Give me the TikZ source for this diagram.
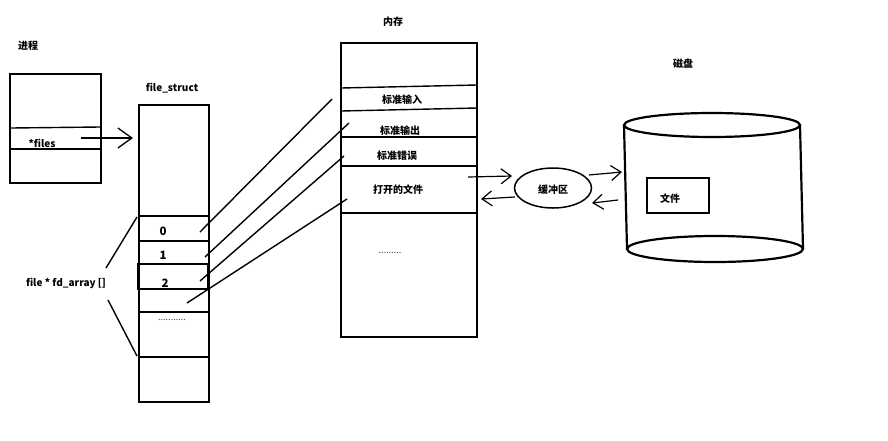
\documentclass[tikz,border=0pt]{standalone}
\usepackage{fontspec}
\setmainfont{Noto Sans CJK SC}
\usetikzlibrary{arrows.meta,shapes.geometric}
\begin{document}
\begin{tikzpicture}[x=1pt,y=-1pt,
  lbl/.style={font=\fontsize{10}{12}\selectfont\bfseries, inner sep=0pt},
  numl/.style={font=\fontsize{11.5}{13}\selectfont\bfseries, inner sep=0pt},
  dotl/.style={font=\fontsize{9}{10}\selectfont, inner sep=0pt, text=black!75},
  thickbox/.style={draw, line width=2.6pt},
  thinbox/.style={draw, line width=1.5pt},
  ln/.style={line width=1.4pt},
  arr/.style={line width=1.2pt, -{Straight Barb[length=10pt,width=15pt,line width=1.2pt]}},
  bigarr/.style={line width=1.3pt, -{Straight Barb[length=14pt,width=20pt,line width=1.3pt]}}]
\fill[white] (0,0) rectangle (888,440);
\useasboundingbox (0,0) rectangle (888,440);

% process
\node[lbl] (tproc) at (28,46) {进程};
\draw[thickbox] (10,74) rectangle (101,183);
\draw[ln] (11,128) -- (100,127);
\draw[ln] (11,149) -- (100,149);
\node[lbl] (files) at (42,143) {*files};
\coordinate (fs0) at (81,138);

% file_struct
\node[lbl] (tfs) at (172,88) {file\_struct};
\draw[thinbox] (139,105) rectangle (209,402);
\draw[ln] (139,216) -- (209,216);
\draw[ln] (139,241) -- (209,241);
\draw[ln] (138,264) rectangle (208,289);
\draw[ln] (139,312) -- (209,312);
\draw[ln] (139,357) -- (209,357);
\coordinate (fstop) at (133,138);
\draw[bigarr] (fs0) -- (fstop);
\node[numl] (n0) at (163,231) {0};
\node[numl] (n1) at (163,255) {1};
\node[numl] (n2) at (165,283) {2};
\node[dotl] (ndots) at (172,320) {...........};
\node[lbl] (fda) at (66,283) {file * fd\_array []};
\draw[ln] (137,217) -- (106,268);
\draw[ln] (108,300) -- (137,356);

% memory
\node[lbl] (tmem) at (393,22) {内存};
\draw[thickbox] (341,43) rectangle (477,337);
\draw[ln] (341,88) -- (477,85);
\draw[ln] (341,111) -- (477,108);
\draw[ln] (341,137) -- (477,137);
\draw[ln] (341,166) -- (477,166);
\draw[ln] (341,213) -- (477,213);
\node[lbl] (m1) at (402,100) {标准输入};
\node[lbl] (m2) at (400,131) {标准输出};
\node[lbl] (m3) at (397,156) {标准错误};
\node[lbl] (m4) at (398,190) {打开的文件};
\node[dotl] (mdots) at (390,253) {.........};

% connectors fd -> memory
\coordinate (a0) at (200,232); \coordinate (b0) at (332,99);
\coordinate (a1) at (205,257); \coordinate (b1) at (349,123);
\coordinate (a2) at (200,281); \coordinate (b2) at (344,156);
\coordinate (a3) at (187,303); \coordinate (b3) at (347,199);
\draw[ln] (a0) -- (b0);
\draw[ln] (a1) -- (b1);
\draw[ln] (a2) -- (b2);
\draw[ln] (a3) -- (b3);

% buffer
\node[draw, line width=1.5pt, ellipse, minimum width=77pt, minimum height=40pt, inner sep=0pt] (buf) at (553,188) {};
\node[lbl] (tbuf) at (553,190) {缓冲区};
\coordinate (c1) at (468,177); \coordinate (c2) at (512,176);
\coordinate (c3) at (515,197); \coordinate (c4) at (481,199);
\coordinate (c5) at (589,175); \coordinate (c6) at (622,172);
\coordinate (c7) at (618,200); \coordinate (c8) at (592,203);
\draw[arr] (c1) -- (c2);
\draw[arr] (c3) -- (c4);
\draw[arr] (c5) -- (c6);
\draw[arr] (c7) -- (c8);

% disk
\node[lbl] (tdisk) at (683,64) {磁盘};
\draw[line width=2.2pt] (712,125) ellipse [x radius=88, y radius=12];
\draw[line width=2.2pt] (624,125) -- (627,249);
\draw[line width=2.2pt] (800,125) -- (803,249);
\draw[line width=2.2pt] (715,249) ellipse [x radius=88, y radius=13];
\draw[line width=1.5pt] (647,178) rectangle (709,213);
\node[lbl] (tfile) at (670,199) {文件};
\end{tikzpicture}
\end{document}
